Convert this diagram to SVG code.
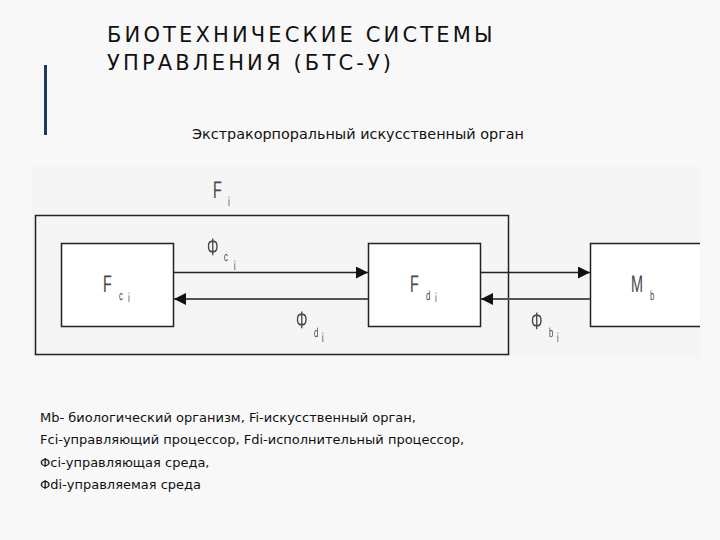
<svg xmlns="http://www.w3.org/2000/svg" width="720" height="540" viewBox="0 0 720 540">
<defs>
<style>
.title{font-family:"DejaVu Sans",sans-serif;font-size:21px;letter-spacing:3.15px;fill:#111}
.sub{font-family:"DejaVu Sans",sans-serif;font-size:14.4px;fill:#111}
.note{font-family:"DejaVu Sans",sans-serif;font-size:13px;fill:#111}
.lbl{font-family:"Liberation Sans","DejaVu Sans",sans-serif;fill:#444;text-rendering:geometricPrecision}
.big{font-size:24px}
.sm{font-size:13px}
.box{fill:#fff;stroke:#222;stroke-width:1.5}
.frame{fill:none;stroke:#222;stroke-width:1.5}
.ln{stroke:#222;stroke-width:1.5;fill:none}
.ln2{stroke:#555;stroke-width:2;fill:none}
.soft{opacity:0.99}
</style>
<marker id="ah" viewBox="0 0 12 12" refX="12" refY="6" markerWidth="12" markerHeight="12" markerUnits="userSpaceOnUse" orient="auto">
<path d="M0,0 L12,6 L0,12 Z" fill="#111"/>
</marker>
</defs>
<rect width="720" height="540" fill="#f8f8f8"/>
<rect x="32" y="166" width="668" height="191" fill="#f5f5f5"/>
<rect x="44" y="65" width="3" height="70" fill="#1f3864"/>
<text class="title" x="107" y="42">БИОТЕХНИЧЕСКИЕ СИСТЕМЫ</text>
<text class="title" x="107" y="70">УПРАВЛЕНИЯ (БТС-У)</text>
<text class="sub" x="192" y="139">Экстракорпоральный искусственный орган</text>

<g id="frame-Fi">
<rect class="frame" x="35.5" y="215.5" width="473" height="139"/>
<g class="soft">
<text class="lbl big" transform="translate(213,198) scale(0.6,1)">F</text>
<text class="lbl sm" transform="translate(228,206) scale(0.6,1)">i</text>
</g>
</g>
<g id="node-Fci">
<rect class="box" x="61.5" y="243.5" width="112" height="83"/>
<g class="soft">
<text class="lbl big" transform="translate(103,292) scale(0.6,1)">F</text>
<text class="lbl sm" transform="translate(119,300) scale(0.6,1)">c</text>
<text class="lbl sm" transform="translate(128,302) scale(0.6,1)">i</text>
</g>
</g>
<g id="node-Fdi">
<rect class="box" x="368.5" y="243.5" width="112" height="83"/>
<g class="soft">
<text class="lbl big" transform="translate(410,292) scale(0.6,1)">F</text>
<text class="lbl sm" transform="translate(426,300) scale(0.6,1)">d</text>
<text class="lbl sm" transform="translate(435,302) scale(0.6,1)">i</text>
</g>
</g>
<g id="node-Mb">
<path class="box" d="M700,243.5 H590.5 V326.5 H700"/>
<g class="soft">
<text class="lbl big" transform="translate(631,292) scale(0.6,1)">M</text>
<text class="lbl sm" transform="translate(650,300) scale(0.6,1)">b</text>
</g>
</g>
<g id="connectors">
<line class="ln" x1="173.5" y1="272.5" x2="368" y2="272.5" marker-end="url(#ah)"/>
<line class="ln2" x1="368" y1="299" x2="174" y2="299" marker-end="url(#ah)"/>
<line class="ln" x1="480.5" y1="272.5" x2="590" y2="272.5" marker-end="url(#ah)"/>
<line class="ln2" x1="590" y1="299" x2="481" y2="299" marker-end="url(#ah)"/>
<g class="soft">
<text class="lbl big" transform="translate(207,255) scale(0.6,1)">Φ</text>
<text class="lbl sm" transform="translate(224,261) scale(0.6,1)">c</text>
<text class="lbl sm" transform="translate(234,270) scale(0.6,1)">i</text>
<text class="lbl big" transform="translate(296,328) scale(0.6,1)">Φ</text>
<text class="lbl sm" transform="translate(314,337) scale(0.6,1)">d</text>
<text class="lbl sm" transform="translate(322,342) scale(0.6,1)">i</text>
<text class="lbl big" transform="translate(531,329) scale(0.6,1)">Φ</text>
<text class="lbl sm" transform="translate(549,337) scale(0.6,1)">b</text>
<text class="lbl sm" transform="translate(557,342) scale(0.6,1)">i</text>
</g>
</g>
<text class="note" x="40" y="422">Mb- биологический организм, Fi-искусственный орган,</text>
<text class="note" x="40" y="444">Fci-управляющий процессор, Fdi-исполнительный процессор,</text>
<text class="note" x="40" y="467">Φci-управляющая среда,</text>
<text class="note" x="40" y="489">Φdi-управляемая среда</text>
</svg>
